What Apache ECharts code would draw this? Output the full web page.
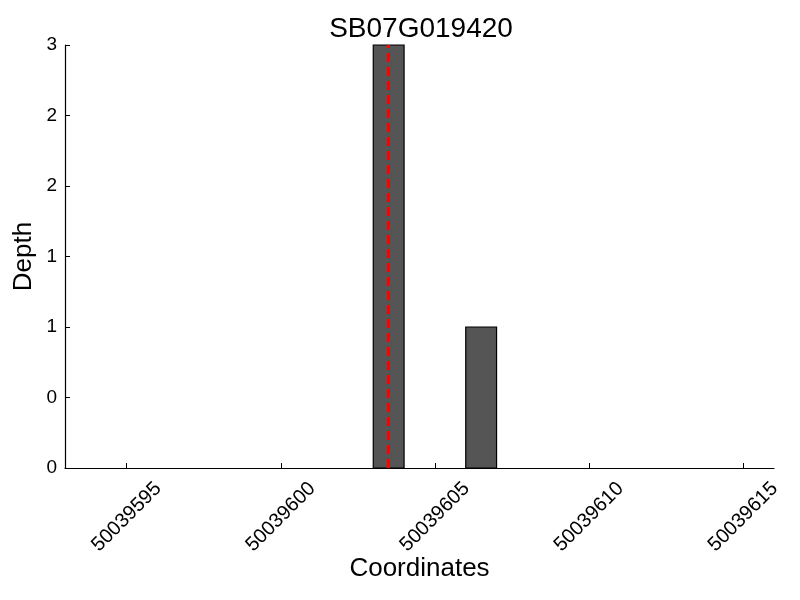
<!DOCTYPE html>
<html>
<head>
<meta charset="utf-8">
<script src="https://cdn.jsdelivr.net/npm/echarts@6/dist/echarts.min.js"></script>
<style>html,body{margin:0;padding:0;background:#fff}#c{width:800px;height:600px}</style>
</head>
<body>
<div id="c"></div>
<script>
// Data
var barStarts = [50039603, 50039606];
var barEnds   = [50039604, 50039607];
var depths    = [3, 1];
var markerPos = 50039603.5;
var xTicks = [50039595, 50039600, 50039605, 50039610, 50039615];
var yTicks = [0, 0.5, 1, 1.5, 2, 2.5, 3];
var yTickLabels = ['0', '0', '1', '1', '2', '2', '3'];
var xMin = 50039593, xMax = 50039616;

var FONT = 'Liberation Sans';
var barData = barStarts.map(function (s, i) { return [s, barEnds[i], depths[i]]; });

var chart = echarts.init(document.getElementById('c'), null, {renderer: 'canvas'});
chart.setOption({
  backgroundColor: '#fff',
  animation: false,
  title: {
    text: 'SB07G019420',
    left: 416, top: 10, textAlign: 'center',
    textStyle: {fontFamily: FONT, fontSize: 28, fontWeight: 'normal', color: '#000'}
  },
  grid: {left: 65, right: 26, top: 45, bottom: 132, containLabel: false, outerBoundsMode: 'none'},
  xAxis: {
    type: 'value', min: xMin, max: xMax,
    name: 'Coordinates', nameLocation: 'middle', nameGap: 88, nameMoveOverlap: false,
    nameTextStyle: {fontFamily: FONT, fontSize: 26, color: '#000'},
    axisLine: {show: true, lineStyle: {color: '#000', width: 1.2}},
    axisTick: {show: true, inside: true, length: 5, customValues: xTicks, lineStyle: {color: '#000'}},
    axisLabel: {
      customValues: xTicks, rotate: 45, align: 'center', verticalAlign: 'middle', margin: 49,
      fontFamily: FONT, fontSize: 20, color: '#000', hideOverlap: false,
      formatter: function (v) { return String(v); }
    },
    splitLine: {show: false}
  },
  yAxis: {
    type: 'value', min: 0, max: 3,
    name: 'Depth', nameLocation: 'middle', nameGap: 28, nameMoveOverlap: false,
    nameTextStyle: {fontFamily: FONT, fontSize: 26, color: '#000'},
    axisLine: {show: true, lineStyle: {color: '#000', width: 1.2}},
    axisTick: {show: true, inside: true, length: 5, customValues: yTicks, lineStyle: {color: '#000'}},
    axisLabel: {
      customValues: yTicks, margin: 8, fontFamily: FONT, fontSize: 19, color: '#000',
      formatter: function (v) { var i = yTicks.indexOf(v); return i >= 0 ? yTickLabels[i] : ''; }
    },
    splitLine: {show: false}
  },
  series: [{
    type: 'custom',
    data: barData,
    encode: {x: [0, 1], y: 2},
    renderItem: function (params, api) {
      var p0 = api.coord([api.value(0), 0]);
      var p1 = api.coord([api.value(1), api.value(2)]);
      return {
        type: 'rect',
        shape: {x: p0[0], y: p1[1], width: p1[0] - p0[0], height: p0[1] - p1[1]},
        style: {fill: '#555555', stroke: '#000', lineWidth: 1.2}
      };
    },
    markLine: {
      silent: true, symbol: ['none', 'none'], label: {show: false},
      lineStyle: {color: '#ff0000', type: [9, 5], width: 3},
      data: [{xAxis: markerPos}]
    },
    z: 2
  }]
});
</script>
</body>
</html>
